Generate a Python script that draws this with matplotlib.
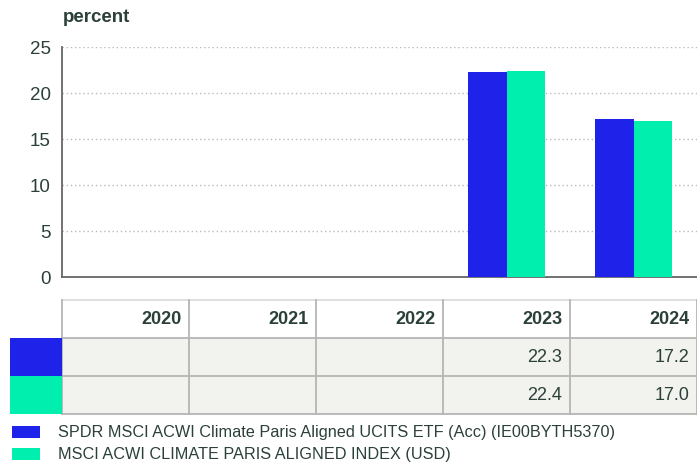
import matplotlib
matplotlib.use("Agg")
import matplotlib.pyplot as plt
from matplotlib.patches import Rectangle
import numpy as np

plt.rcParams['font.family'] = ['Liberation Sans', 'DejaVu Sans']

years = ["2020", "2021", "2022", "2023", "2024"]
fund = [None, None, None, 22.3, 17.2]
index = [None, None, None, 22.4, 17.0]
series_names = ["SPDR MSCI ACWI Climate Paris Aligned UCITS ETF (Acc) (IE00BYTH5370)",
                "MSCI ACWI CLIMATE PARIS ALIGNED INDEX (USD)"]
colors = ["#1f22e8", "#00efae"]
yticks = [0, 5, 10, 15, 20, 25]

W, H = 697, 465
txt = "#2b4038"
fig = plt.figure(figsize=(W/100, H/100), dpi=100)

def fx(px): return px / W
def fy(py): return 1 - py / H

ax = fig.add_axes([fx(62), fy(277), fx(697) - fx(62), fy(47) - fy(277)])
x = np.arange(len(years))
bw = 0.3
for i, (vals, c) in enumerate(zip([fund, index], colors)):
    xs = [xi for xi, v in zip(x, vals) if v is not None]
    vs = [v for v in vals if v is not None]
    ax.bar(np.array(xs) + (i - 0.5) * bw, vs, width=bw, color=c, zorder=3)
ax.set_xlim(-0.5, len(years) - 0.5)
ax.set_ylim(0, 25)
ax.set_yticks(yticks)
ax.set_yticklabels([str(t) for t in yticks], fontsize=13.5, color=txt)
ax.tick_params(axis='y', length=0, pad=8)
ax.set_xticks([])
for s in ["top", "right"]:
    ax.spines[s].set_visible(False)
for s in ["left", "bottom"]:
    ax.spines[s].set_color("#666666")
    ax.spines[s].set_linewidth(1.3)
ax.yaxis.grid(True, linestyle=(0, (1, 2)), color="#bbbbbb", linewidth=1, zorder=0)
fig.text(fx(63), fy(18), "percent", fontsize=13.5, fontweight="bold", color=txt, va="center", ha="left")

# table
tax = fig.add_axes([fx(62), fy(414), fx(697) - fx(62), fy(300) - fy(414)])
tax.set_xlim(-0.5, len(years) - 0.5)
tax.set_ylim(0, 3)
tax.axis("off")
gc = "#b5b5b5"
for r in range(2):
    tax.add_patch(Rectangle((-0.5, r), len(years), 1, facecolor="#f2f2ee", edgecolor="none", zorder=1))
for yy in [0, 1, 2]:
    tax.plot([-0.5, len(years) - 0.5], [yy, yy], color=gc, lw=1.3, zorder=2, clip_on=False)
tax.plot([-0.5, len(years) - 0.5], [3, 3], color="#dddddd", lw=1.3, zorder=2, clip_on=False)
for k in range(len(years) + 1):
    tax.plot([k - 0.5, k - 0.5], [0, 3], color=gc, lw=1.3, zorder=2, clip_on=False)
for i, yr in enumerate(years):
    tax.text(i + 0.5 - 0.06, 2.5, yr, ha="right", va="center", fontsize=13, fontweight="bold", color=txt)
for r, vals in enumerate([fund, index]):
    for i, v in enumerate(vals):
        if v is not None:
            tax.text(i + 0.5 - 0.06, 1.5 - r, f"{v:.1f}", ha="right", va="center", fontsize=13, color=txt)

# swatches
for r, c in enumerate(colors):
    top = 338 + r * 38
    fig.patches.append(Rectangle((fx(10), fy(top + 38)), fx(62) - fx(10), fy(top) - fy(top + 38),
                                 facecolor=c, edgecolor="none", transform=fig.transFigure, figure=fig))

# legend
for r, (c, name) in enumerate(zip(colors, series_names)):
    cy = 432 + r * 22
    fig.patches.append(Rectangle((fx(12), fy(cy + 6)), fx(40) - fx(12), fy(cy - 6) - fy(cy + 6),
                                 facecolor=c, edgecolor="none", transform=fig.transFigure, figure=fig))
    fig.text(fx(58), fy(cy), name, fontsize=11.7, color=txt, va="center", ha="left")

fig.savefig("out.png", dpi=100)
